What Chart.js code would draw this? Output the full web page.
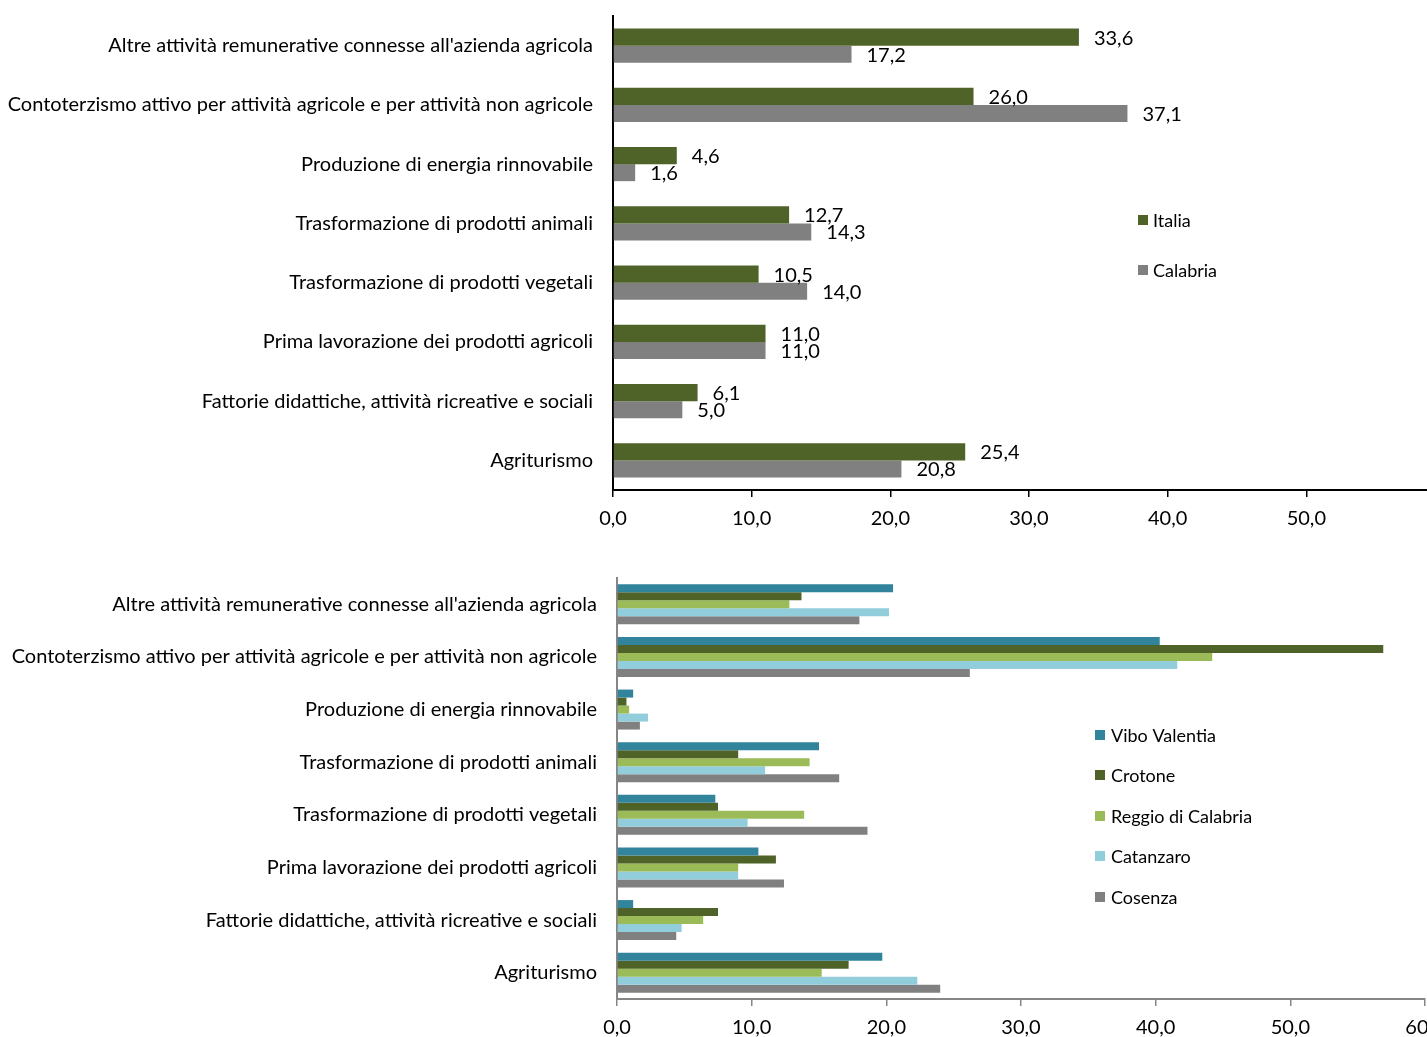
<!DOCTYPE html>
<html>
<head>
<meta charset="utf-8">
<script src="https://cdn.jsdelivr.net/npm/chart.js@4.4.1/dist/chart.umd.min.js"></script>
<style>
  html, body { margin: 0; padding: 0; background: #fff; width: 1427px; height: 1037px; overflow: hidden; }
  #wrap1 { position: absolute; left: 0; top: 0; width: 1480px; height: 545px; }
  #wrap2 { position: absolute; left: 0; top: 545px; width: 1480px; height: 492px; }
  canvas { display: block; }
</style>
</head>
<body>
<div id="wrap1"><canvas id="c1" width="1480" height="545"></canvas></div>
<div id="wrap2"><canvas id="c2" width="1480" height="492"></canvas></div>
<script>
const categories = [
  "Altre attività remunerative connesse all'azienda agricola",
  "Contoterzismo attivo per attività agricole e per attività non agricole",
  "Produzione di energia rinnovabile",
  "Trasformazione di prodotti animali",
  "Trasformazione di prodotti vegetali",
  "Prima lavorazione dei prodotti agricoli",
  "Fattorie didattiche, attività ricreative e sociali",
  "Agriturismo"
];
const italia    = [33.6, 26.0, 4.6, 12.7, 10.5, 11.0, 6.1, 25.4];
const calabria  = [17.2, 37.1, 1.6, 14.3, 14.0, 11.0, 5.0, 20.8];

const vibo      = [20.5, 40.3, 1.2, 15.0, 7.3, 10.5, 1.2, 19.7];
const crotone   = [13.7, 56.9, 0.7, 9.0, 7.5, 11.8, 7.5, 17.2];
const reggio    = [12.8, 44.2, 0.9, 14.3, 13.9, 9.0, 6.4, 15.2];
const catanzaro = [20.2, 41.6, 2.3, 11.0, 9.7, 9.0, 4.8, 22.3];
const cosenza   = [18.0, 26.2, 1.7, 16.5, 18.6, 12.4, 4.4, 24.0];

const xTicksTop    = [0, 10, 20, 30, 40, 50];
const xTicksBottom = [0, 10, 20, 30, 40, 50, 60];

const FONT = 'Lato, "Open Sans", sans-serif';
const fmt = v => v.toFixed(1).replace('.', ',');

const valueLabels = {
  id: 'valueLabels',
  afterDatasetsDraw(chart, args, opts) {
    if (!opts.enabled) return;
    const ctx = chart.ctx;
    ctx.save();
    ctx.font = opts.size + 'px ' + FONT;
    ctx.fillStyle = '#000';
    ctx.textBaseline = 'middle';
    ctx.textAlign = 'left';
    chart.data.datasets.forEach((ds, i) => {
      const meta = chart.getDatasetMeta(i);
      meta.data.forEach((el, j) => {
        ctx.fillText(fmt(ds.data[j]), el.x + opts.offset, el.y + 1);
      });
    });
    ctx.restore();
  }
};

const customLegend = {
  id: 'customLegend',
  afterDraw(chart, args, opts) {
    const ctx = chart.ctx;
    ctx.save();
    ctx.font = opts.size + 'px ' + FONT;
    ctx.textBaseline = 'middle';
    ctx.textAlign = 'left';
    chart.data.datasets.forEach((ds, i) => {
      const y = opts.ys[i];
      ctx.fillStyle = ds.backgroundColor;
      ctx.fillRect(opts.x, y - opts.box / 2, opts.box, opts.box);
      ctx.fillStyle = '#000';
      ctx.fillText(ds.label, opts.textX, y + 1);
    });
    ctx.restore();
  }
};

function makeOptions(cfg) {
  return {
    indexAxis: 'y',
    responsive: false,
    maintainAspectRatio: false,
    animation: false,
    layout: { padding: { top: cfg.padTop, right: cfg.padRight, left: 0, bottom: 0 } },
    plugins: {
      legend: { display: false },
      tooltip: { enabled: false },
      valueLabels: cfg.valueLabels,
      customLegend: cfg.legend
    },
    datasets: { bar: { categoryPercentage: cfg.catPct, barPercentage: 1.0, borderWidth: 0 } },
    scales: {
      x: {
        type: 'linear',
        min: 0, max: 60,
        afterBuildTicks: s => { s.ticks = cfg.ticks.map(v => ({ value: v })); },
        afterFit: s => { s.height = cfg.xHeight; },
        border: { display: true, color: cfg.axisColor, width: 2 },
        grid: { display: true, drawOnChartArea: false, drawTicks: true, tickLength: 7, color: cfg.axisColor, lineWidth: 1.5 },
        ticks: { padding: cfg.xPad, color: '#000', font: { family: FONT, size: 20 }, callback: v => fmt(v), maxRotation: 0, autoSkip: false }
      },
      y: {
        type: 'category',
        afterFit: s => { s.width = cfg.left; },
        border: { display: true, color: cfg.axisColor, width: 2 },
        grid: { display: true, drawOnChartArea: false, drawTicks: true, tickLength: 20, color: 'rgba(0,0,0,0)' },
        ticks: { padding: 0, color: '#000', font: { family: FONT, size: 20 }, autoSkip: false }
      }
    }
  };
}

new Chart(document.getElementById('c1'), {
  type: 'bar',
  data: {
    labels: categories,
    datasets: [
      { label: 'Italia', data: italia, backgroundColor: '#4F6228' },
      { label: 'Calabria', data: calabria, backgroundColor: '#808080' }
    ]
  },
  plugins: [valueLabels, customLegend],
  options: makeOptions({
    padTop: 16, padRight: 35, catPct: 0.575, xHeight: 55, xPad: 10, left: 613, axisColor: '#000',
    ticks: xTicksTop,
    valueLabels: { enabled: true, size: 20, offset: 15 },
    legend: { x: 1138, textX: 1153, box: 10, size: 18, ys: [220, 270] }
  })
});

new Chart(document.getElementById('c2'), {
  type: 'bar',
  data: {
    labels: categories,
    datasets: [
      { label: 'Vibo Valentia', data: vibo, backgroundColor: '#31849B' },
      { label: 'Crotone', data: crotone, backgroundColor: '#4F6228' },
      { label: 'Reggio di Calabria', data: reggio, backgroundColor: '#9BBB59' },
      { label: 'Catanzaro', data: catanzaro, backgroundColor: '#92CDDC' },
      { label: 'Cosenza', data: cosenza, backgroundColor: '#808080' }
    ]
  },
  plugins: [valueLabels, customLegend],
  options: makeOptions({
    padTop: 33, padRight: 55, catPct: 0.76, xHeight: 38, xPad: 10, left: 617, axisColor: '#868686',
    ticks: xTicksBottom,
    valueLabels: { enabled: false },
    legend: { x: 1095, textX: 1111, box: 10, size: 18, ys: [190, 230, 271, 311, 352] }
  })
});
</script>
</body>
</html>
